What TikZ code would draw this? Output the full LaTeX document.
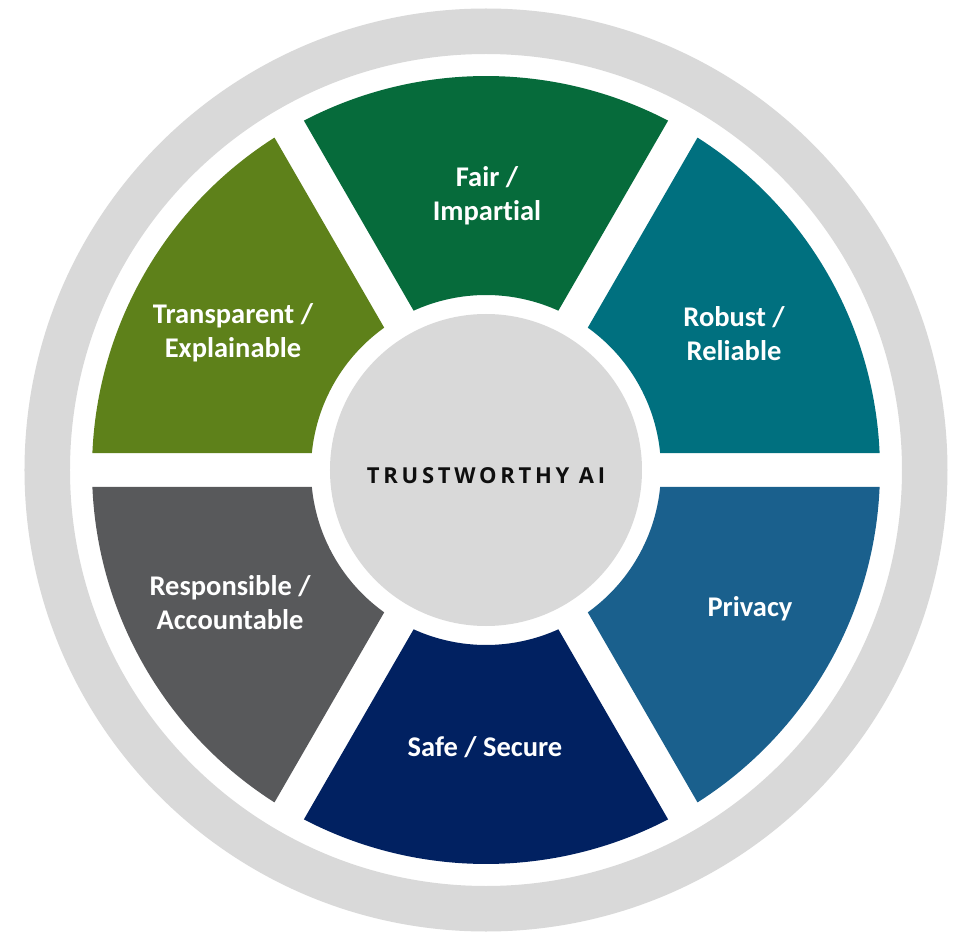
\documentclass[tikz,border=0pt]{standalone}
\usepackage{fontspec}
\setmainfont[Ligatures=NoCommon]{Carlito}
\newfontfamily\titlefont[LetterSpace=17]{Open Sans}
\definecolor{ringgray}{RGB}{217,217,217}
\definecolor{cfair}{RGB}{6,107,59}
\definecolor{crobust}{RGB}{0,112,127}
\definecolor{cprivacy}{RGB}{26,96,141}
\definecolor{csafe}{RGB}{1,33,97}
\definecolor{cresp}{RGB}{88,89,91}
\definecolor{ctrans}{RGB}{94,129,26}
\definecolor{titleblack}{RGB}{15,15,15}
\tikzset{
  lbl/.style={text=white, align=center, inner sep=0pt,
    font=\fontsize{28.5}{34}\selectfont\bfseries},
  core/.style={circle, fill=ringgray, minimum size=312pt, inner sep=0pt}
}
\begin{document}
\begin{tikzpicture}[x=1pt,y=1pt]
\useasboundingbox (-486,-462) rectangle (473,470);
\fill[white] (-486,-462) rectangle (473,470);
% outer gray ring
\fill[ringgray, even odd rule] (0,0) circle[radius=461.5] (0,0) circle[radius=416];
% six segments
\foreach \a/\c in {90/cfair, 30/crobust, -30/cprivacy, -90/csafe, -150/cresp, 150/ctrans} {
  \fill[\c] ({\a-27.53}:394) arc[start angle={\a-27.53}, end angle={\a+27.53}, radius=394]
    -- ({\a+24.43}:175) arc[start angle={\a+24.43}, end angle={\a-24.43}, radius=175] -- cycle;
}
% centre
\node[core] (core) at (0,0) {};
\node[text=titleblack, font=\titlefont\fontsize{22}{26}\selectfont\bfseries, anchor=base] (title) at (0,-13) {TRUSTWORTHY AI};
% labels
\node[lbl] (fair) at (1,274) {Fair /\\Impartial};
\node[lbl] (robust) at (248,136) {Robust /\\Reliable};
\node[lbl] (privacy) at (264,-139) {Privacy};
\node[lbl] (safe) at (-1,-277) {Safe / Secure};
\node[lbl] (resp) at (-256,-133) {Responsible /\\Accountable};
\node[lbl] (trans) at (-253,137) {Transparent /\\Explainable};
\end{tikzpicture}
\end{document}
